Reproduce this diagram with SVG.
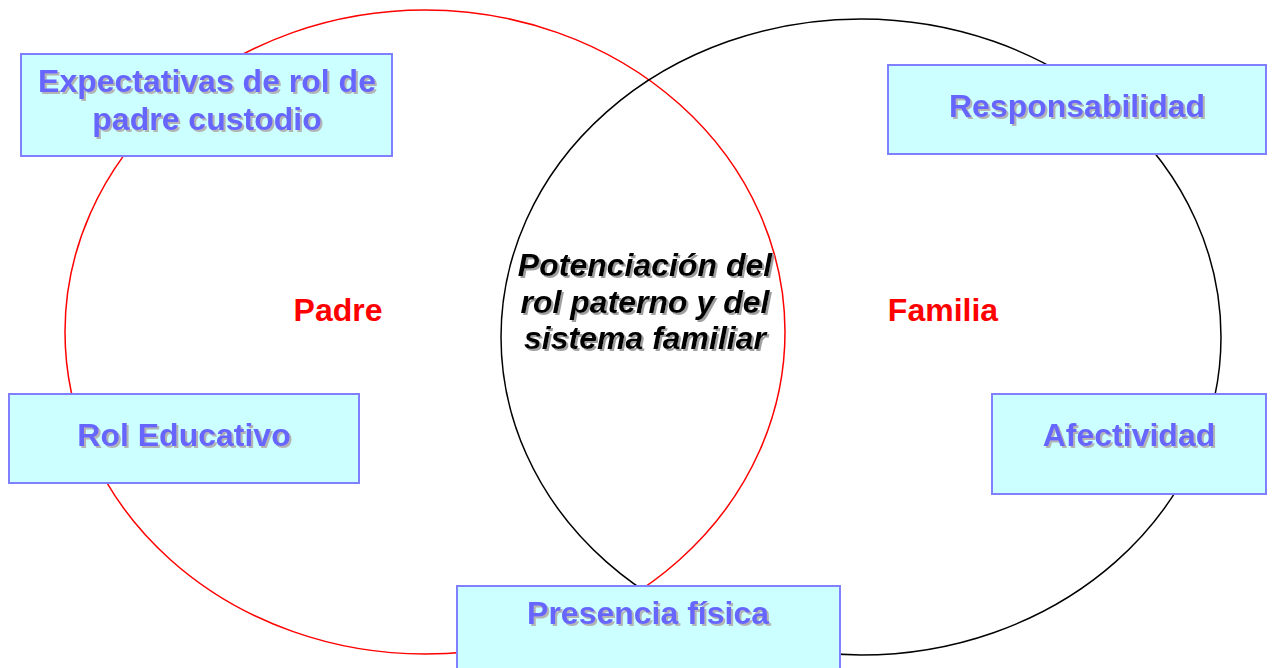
<svg xmlns="http://www.w3.org/2000/svg" width="1273" height="668" viewBox="0 0 1273 668">
<defs>
<filter id="sh" x="-5%" y="-20%" width="110%" height="140%">
<feDropShadow dx="2" dy="2" stdDeviation="0.3" flood-color="#b4b4b4" flood-opacity="1"/>
</filter>
<filter id="shk" x="-5%" y="-20%" width="110%" height="140%">
<feDropShadow dx="2" dy="2" stdDeviation="0.5" flood-color="#a0a0a0" flood-opacity="1"/>
</filter>
</defs>
<style>
.box{fill:#ccffff;stroke:#8080ff;stroke-width:2}
.bt{font-family:"Liberation Sans",Arial,sans-serif;font-weight:bold;font-size:32px;fill:#6666ff;text-anchor:middle;filter:url(#sh)}
.lab{font-family:"Liberation Sans",Arial,sans-serif;font-weight:bold;font-size:32px;fill:#ff0000;text-anchor:middle}
.ct{font-family:"Liberation Sans",Arial,sans-serif;font-weight:bold;font-style:italic;font-size:32px;fill:#000;text-anchor:middle;filter:url(#shk)}
</style>
<rect width="1273" height="668" fill="#fff"/>
<g id="circles" fill="none" stroke-width="1.5">
<ellipse id="padre-circle" cx="425" cy="332" rx="360" ry="322" stroke="#ff0000"/>
<ellipse id="familia-circle" cx="861" cy="337" rx="360" ry="318" stroke="#000"/>
</g>
<g id="labels">
<text class="lab" x="338" y="321">Padre</text>
<text class="lab" x="943" y="321">Familia</text>
</g>
<g id="center">
<text class="ct" x="645" y="276">Potenciación del</text>
<text class="ct" x="645" y="313">rol paterno y del</text>
<text class="ct" x="645" y="349">sistema familiar</text>
</g>
<g id="expectativas">
<rect class="box" x="21" y="54" width="371" height="102"/>
<text class="bt" x="207" y="92">Expectativas de rol de</text>
<text class="bt" x="207" y="130">padre custodio</text>
</g>
<g id="responsabilidad">
<rect class="box" x="888" y="65" width="378" height="89"/>
<text class="bt" x="1077" y="117">Responsabilidad</text>
</g>
<g id="rol-educativo">
<rect class="box" x="9" y="394" width="350" height="89"/>
<text class="bt" x="184" y="446">Rol Educativo</text>
</g>
<g id="afectividad">
<rect class="box" x="992" y="394" width="274" height="100"/>
<text class="bt" x="1129" y="446">Afectividad</text>
</g>
<g id="presencia">
<rect class="box" x="457" y="586" width="383" height="90"/>
<text class="bt" x="648" y="624">Presencia física</text>
</g>
</svg>
